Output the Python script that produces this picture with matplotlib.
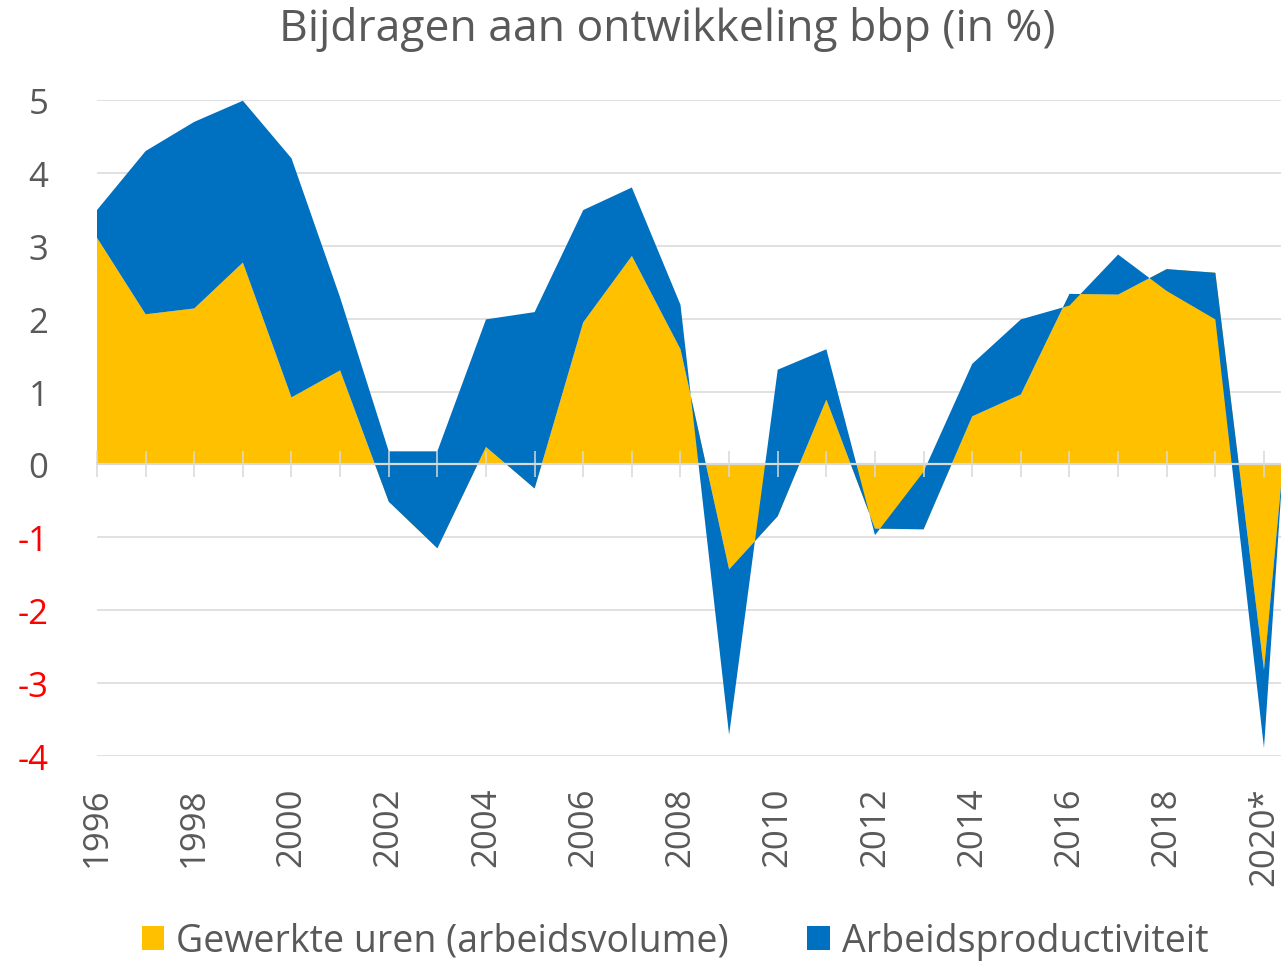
import matplotlib
matplotlib.use("Agg")
import matplotlib.pyplot as plt
from matplotlib.patches import Patch

# Bijdragen aan de bbp-groei: gewerkte uren en arbeidsproductiviteit (procentpunten)
jaren = ["1996", "1997", "1998", "1999", "2000", "2001", "2002", "2003", "2004",
         "2005", "2006", "2007", "2008", "2009", "2010", "2011", "2012", "2013",
         "2014", "2015", "2016", "2017", "2018", "2019", "2020*", "2021*"]
gewerkte_uren = [3.11, 2.06, 2.14, 2.77, 0.92, 1.29, -0.51, -1.15, 0.24,
                 -0.33, 1.95, 2.86, 1.58, -1.44, -0.71, 0.89, -0.88, -0.89,
                 0.66, 0.96, 2.34, 2.33, 2.68, 2.63, -2.82, 4.40]
arbeidsproductiviteit = [0.38, 2.24, 2.56, 2.22, 3.28, 1.00, 0.69, 1.33, 1.75,
                         2.42, 1.54, 0.94, 0.61, -2.27, 2.01, 0.69, -0.09, 0.79,
                         0.72, 1.03, -0.16, 0.55, -0.30, -0.64, -1.07, 1.60]
y_ticks = [-4, -3, -2, -1, 0, 1, 2, 3, 4, 5]

GEEL = "#FFC000"
BLAUW = "#0070C0"
GRIJS = "#595959"
RASTER = "#D9D9D9"
FONT = "Open Sans"

plt.rcParams["font.family"] = [FONT, "DejaVu Sans"]

W, H = 1281, 962
fig = plt.figure(figsize=(W / 100, H / 100), dpi=100)
ax = fig.add_axes([97 / W, (H - 757) / H, 1184 / W, 656 / H])

x = list(range(len(jaren)))
ax.stackplot(x, gewerkte_uren, arbeidsproductiviteit,
             colors=[GEEL, BLAUW], linewidth=0, zorder=1)

ax.set_xlim(0, 24.35)
ax.set_ylim(-4, 5)

# horizontale rasterlijnen achter de vlakken
ax.set_axisbelow(True)
ax.set_yticks(y_ticks)
ax.set_yticklabels([str(v) for v in y_ticks])
ax.grid(axis="y", color=RASTER, linewidth=1.1)
ax.tick_params(axis="y", length=0, pad=35, labelsize=25, labelcolor=GRIJS)
for lbl, v in zip(ax.get_yticklabels(), y_ticks):
    lbl.set_color("#FF0000" if v < 0 else GRIJS)

# jaartallen onder de grafiek, om het jaar een label
ax.set_xticks(x[::2])
ax.set_xticklabels(jaren[::2], rotation=90, va="top", ha="center")
ax.tick_params(axis="x", length=0, pad=22, labelsize=25, labelcolor=GRIJS)

for s in ax.spines.values():
    s.set_visible(False)

# nullijn met streepjes per jaar, boven de vlakken
nul = ax.secondary_xaxis(4 / 9)
nul.set_zorder(5)
nul.set_xticks(x)
nul.set_xticklabels([])
nul.tick_params(axis="x", direction="inout", length=19, width=1.1,
                color=RASTER)
nul.spines["bottom"].set_color(RASTER)
nul.spines["bottom"].set_linewidth(1.6)
nul.spines["top"].set_visible(False)

fig.text(667 / W, 1 - 30 / H, "Bijdragen aan ontwikkeling bbp (in %)",
         ha="center", va="center", fontsize=32, color=GRIJS)

handles = [Patch(facecolor=GEEL, edgecolor="none"),
           Patch(facecolor=BLAUW, edgecolor="none")]
fig.legend(handles, ["Gewerkte uren (arbeidsvolume)", "Arbeidsproductiviteit"],
           loc="center", bbox_to_anchor=(675 / W, 1 - 942 / H), ncol=2,
           frameon=False, fontsize=27, labelcolor=GRIJS,
           handlelength=0.59, handleheight=0.59, handletextpad=0.32,
           columnspacing=2.1, borderpad=0, borderaxespad=0)

fig.savefig("out.png", dpi=100)
